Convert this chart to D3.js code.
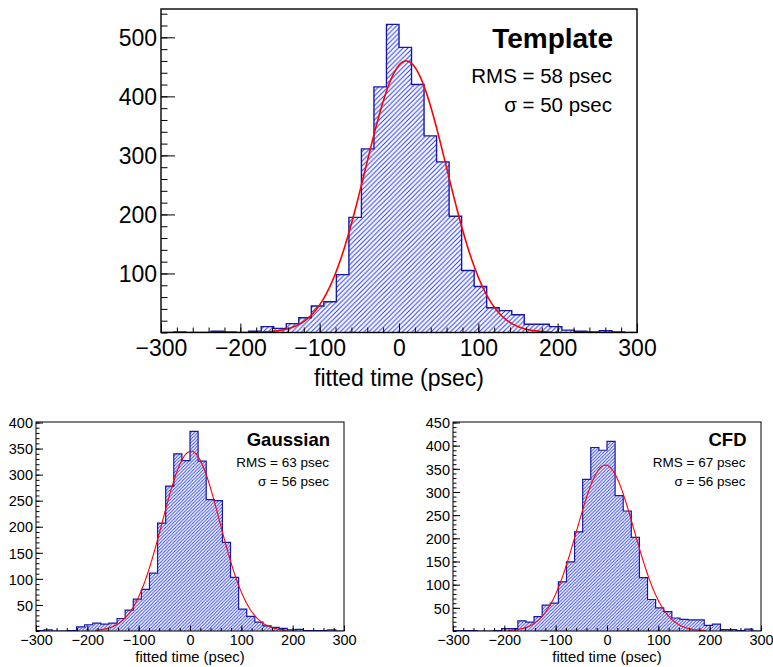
<!DOCTYPE html>
<html><head><meta charset="utf-8">
<script src="https://cdn.jsdelivr.net/npm/d3@7"></script>
<style>body{margin:0;background:#fff}text{font-family:"Liberation Sans",Arial,Helvetica,sans-serif;fill:#000}</style>
</head><body><svg id="c" width="773" height="667"></svg>
<script>
// ---- data ----
const binRange = [-300, 300];
const nBins = 38;
const templateCounts = [0,1,0,0,2,1,0,2,10,7,15,25,45,52,98,195,311,416,522,483,420,333,289,197,105,78,42,37,30,14,14,10,4,2,1,3,1,0];
const gaussianCounts = [1,2,0,0,1,8,12,15,13,15,24,40,61,80,111,207,278,340,327,383,326,252,250,170,103,42,28,17,10,7,5,2,3,1,1,1,2,0];
const cfdCounts = [1,1,1,0,0,1,5,5,22,19,31,56,60,106,149,214,327,396,390,409,292,259,202,115,68,50,42,28,25,24,24,12,15,3,3,1,4,0];
// fit parameters: [amplitude, mean, sigma] and fit ranges
const templateFit = [460, 9, 51];
const gaussianFit = [345, 2, 56];
const cfdFit = [358, -3, 56];
const templateFitRange = [-178, 192];
const gaussianFitRange = [-185, 190];
const cfdFitRange = [-192, 192];
const xTicks = [-300, -200, -100, 0, 100, 200, 300];
const templateYTicks = [100, 200, 300, 400, 500];
const gaussianYTicks = [50, 100, 150, 200, 250, 300, 350, 400];
const cfdYTicks = [50, 100, 150, 200, 250, 300, 350, 400, 450];
const titles = ["Template", "Gaussian", "CFD"];
const rmsTexts = ["RMS = 58 psec", "RMS = 63 psec", "RMS = 67 psec"];
const sigmaTexts = ["σ = 50 psec", "σ = 56 psec", "σ = 56 psec"];
const xTitle = "fitted time (psec)";

const svg = d3.select("#c");
const defs = svg.append("defs");
function hatch(id, s, w) {
  const p = defs.append("pattern").attr("id", id).attr("patternUnits", "userSpaceOnUse")
    .attr("width", s).attr("height", s);
  p.append("path").attr("d", `M0,${s} L${s},0 M${-s/4},${s/4} L${s/4},${-s/4} M${s*3/4},${s*5/4} L${s*5/4},${s*3/4}`)
    .attr("stroke", "#2236f5").attr("stroke-width", w).attr("fill", "none");
}
hatch("h1", 4.8, 1.0);
hatch("h2", 3.3, 0.9);

function panel(o) {
  const g = svg.append("g");
  const x = d3.scaleLinear().domain(binRange).range([o.L, o.R]);
  const y = d3.scaleLinear().domain([0, o.ymax]).range([o.B, o.T]);
  const clipId = "clip" + o.id;
  defs.append("clipPath").attr("id", clipId).append("rect")
    .attr("x", o.L).attr("y", o.T).attr("width", o.R - o.L).attr("height", o.B - o.T);
  const w = (binRange[1] - binRange[0]) / nBins;
  const pts = [[binRange[0], 0]];
  o.counts.forEach((c, i) => { pts.push([binRange[0] + i * w, c]); pts.push([binRange[0] + (i + 1) * w, c]); });
  pts.push([binRange[1], 0]);
  const line = d3.line().x(d => x(d[0])).y(d => y(d[1]));
  const cg = g.append("g").attr("clip-path", `url(#${clipId})`);
  cg.append("path").attr("d", line(pts) + "Z").attr("fill", `url(#${o.pat})`).attr("stroke", "none");
  cg.append("path").attr("d", line(pts)).attr("fill", "none").attr("stroke", "#1818a8").attr("stroke-width", o.hw);
  // fit curve
  const [A, m, s] = o.fit;
  const cx = d3.range(o.fitRange[0], o.fitRange[1] + 0.01, 1);
  cg.append("path").attr("d", d3.line().x(d => x(d)).y(d => y(A * Math.exp(-0.5 * ((d - m) / s) ** 2)))(cx))
    .attr("fill", "none").attr("stroke", "#ff0000").attr("stroke-width", o.fw);
  // axes: minor ticks
  const minorX = d3.range(binRange[0], binRange[1] + 1, 20);
  const minorY = d3.range(0, o.ymax, o.yMinor);
  g.append("g").attr("transform", `translate(0,${o.B})`)
    .call(d3.axisBottom(x).tickValues(minorX).tickSize(-o.xMinLen).tickSizeOuter(0).tickFormat(""))
    .call(a => a.select(".domain").remove()).selectAll("line").attr("stroke", "#000");
  g.append("g").attr("transform", `translate(${o.L},0)`)
    .call(d3.axisLeft(y).tickValues(minorY).tickSize(-o.yMinLen).tickSizeOuter(0).tickFormat(""))
    .call(a => a.select(".domain").remove()).selectAll("line").attr("stroke", "#000");
  // major ticks with labels
  const xa = g.append("g").attr("transform", `translate(0,${o.B})`)
    .call(d3.axisBottom(x).tickValues(xTicks).tickSize(-o.xMajLen).tickSizeOuter(0).tickFormat(d3.format("d")))
    .call(a => a.select(".domain").remove());
  xa.selectAll("line").attr("stroke", "#000");
  xa.selectAll("text").attr("y", o.xLabY).attr("dy", null).style("font-size", o.fs + "px").attr("fill", "#000");
  const ya = g.append("g").attr("transform", `translate(${o.L},0)`)
    .call(d3.axisLeft(y).tickValues(o.yTicks).tickSize(-o.yMajLen).tickSizeOuter(0).tickPadding(o.yPad).tickFormat(d3.format("d")))
    .call(a => a.select(".domain").remove());
  ya.selectAll("line").attr("stroke", "#000");
  ya.selectAll("text").attr("dy", "0.36em").style("font-size", o.fs + "px").attr("fill", "#000");
  // frame
  g.append("rect").attr("x", o.L).attr("y", o.T).attr("width", o.R - o.L).attr("height", o.B - o.T)
    .attr("fill", "none").attr("stroke", "#000").attr("stroke-width", o.frw);
  // x title
  g.append("text").attr("x", (o.L + o.R) / 2).attr("y", o.titleY).attr("text-anchor", "middle")
    .style("font-size", o.tfs + "px").text(xTitle);
  // annotations
  g.append("text").attr("x", o.annX).attr("y", o.a1).attr("text-anchor", "end")
    .style("font-size", o.bfs + "px").style("font-weight", "bold").text(titles[o.id]);
  g.append("text").attr("x", o.annX - 1).attr("y", o.a2).attr("text-anchor", "end")
    .style("font-size", o.afs + "px").text(rmsTexts[o.id]);
  g.append("text").attr("x", o.annX - 1).attr("y", o.a3).attr("text-anchor", "end")
    .style("font-size", o.afs + "px").text(sigmaTexts[o.id]);
}

panel({id: 0, L: 161, R: 637, T: 9, B: 332.5, ymax: 548, counts: templateCounts, fit: templateFit, fitRange: templateFitRange,
  yTicks: templateYTicks, yMinor: 20, pat: "h1", hw: 1.4, fw: 1.6, frw: 1.4,
  xMinLen: 5, xMajLen: 9, yMinLen: 6.5, yMajLen: 14, xLabY: 23.5, yPad: 4, fs: 23, tfs: 23, titleY: 386,
  annX: 613, a1: 48, a2: 83, a3: 112, bfs: 28, afs: 20.5});
panel({id: 1, L: 36, R: 344, T: 422, B: 631, ymax: 401, counts: gaussianCounts, fit: gaussianFit, fitRange: gaussianFitRange,
  yTicks: gaussianYTicks, yMinor: 10, pat: "h2", hw: 1.2, fw: 1.1, frw: 1,
  xMinLen: 3, xMajLen: 5.5, yMinLen: 3.5, yMajLen: 7, xLabY: 14, yPad: 3, fs: 14.5, tfs: 14.8, titleY: 662,
  annX: 330, a1: 446, a2: 466.5, a3: 486, bfs: 18.5, afs: 13.5});
panel({id: 2, L: 453, R: 761, T: 422, B: 631, ymax: 451, counts: cfdCounts, fit: cfdFit, fitRange: cfdFitRange,
  yTicks: cfdYTicks, yMinor: 10, pat: "h2", hw: 1.2, fw: 1.1, frw: 1,
  xMinLen: 3, xMajLen: 5.5, yMinLen: 3.5, yMajLen: 7, xLabY: 14, yPad: 3, fs: 14.5, tfs: 14.8, titleY: 662,
  annX: 746.5, a1: 446, a2: 466.5, a3: 486, bfs: 18.5, afs: 13.5});
</script></body></html>
